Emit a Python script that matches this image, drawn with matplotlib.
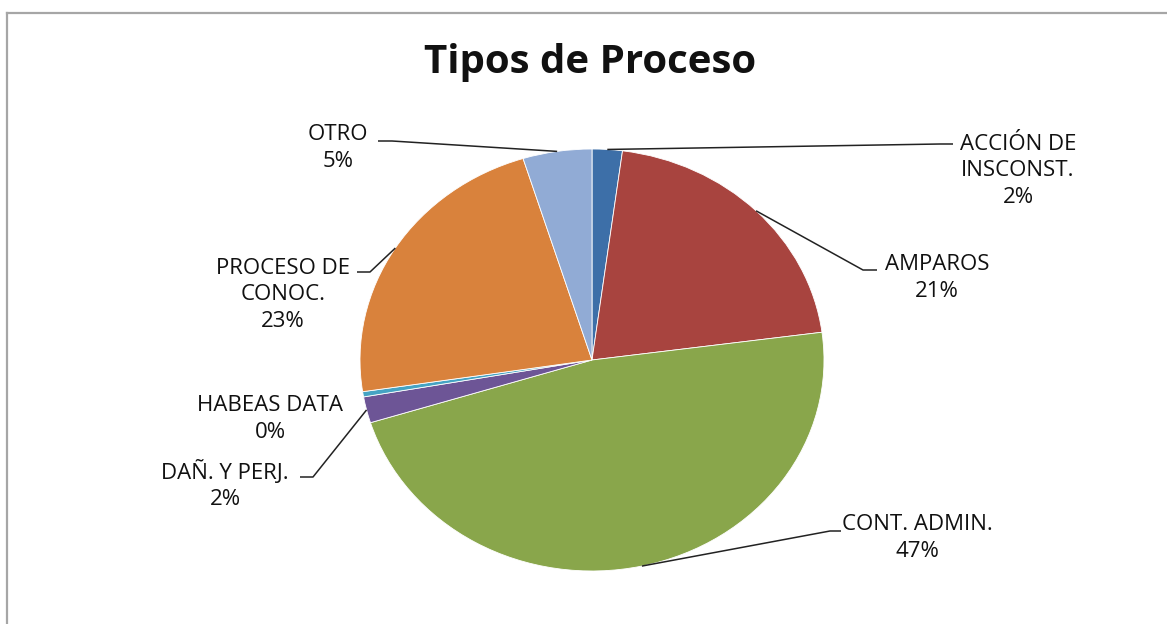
"""
Tipos de Proceso - gráfico de torta estilo Excel
"""

import numpy as np
import matplotlib
matplotlib.use("Agg")
import matplotlib.pyplot as plt
from matplotlib.lines import Line2D

plt.rcParams["font.family"] = ["Open Sans", "DejaVu Sans"]

# ── Datos
categorias = ["ACCIÓN DE\nINSCONST.", "AMPAROS", "CONT. ADMIN.", "DAÑ. Y PERJ.",
              "HABEAS DATA", "PROCESO DE\nCONOC.", "OTRO"]
valores = [2.1, 20.8, 47.3, 2.0, 0.4, 22.6, 4.8]
colores = ["#3d6fa8", "#a8443f", "#89a64b", "#6d5596", "#45a3c3", "#d9823c", "#91abd5"]

W, H = 1167, 624
CX, CY = 592, 360      # centro de la torta (px, desde arriba)
RX, RY = 232, 211      # radios en px (la imagen está algo estirada)


def px(x, y):
    """pixel (desde arriba-izquierda) -> coordenadas de datos"""
    return (x - CX) / RX, (CY - y) / RY


fig = plt.figure(figsize=(W / 100, H / 100), dpi=100)
ax = fig.add_axes([0, 0, 1, 1])

wedges, _ = ax.pie(valores, colors=colores, startangle=90, counterclock=False,
                   radius=1, wedgeprops=dict(edgecolor="white", linewidth=0.6))
ax.set_aspect("auto")
ax.set_xlim(-CX / RX, (W - CX) / RX)
ax.set_ylim(-(H - CY) / RY, CY / RY)
ax.axis("off")

# posición del texto (centro del bloque) y puntos del conector (codo, fin)
pos_texto = [(1018, 171), (937, 278), (917, 538), (225, 485),
             (270, 419), (283, 295), (338, 148)]
conectores = [[(940, 144), (953, 144)],
              [(863, 270), (877, 270)],
              [(830, 531), (841, 531)],
              [(313, 477), (300, 477)],
              None,
              [(370, 272), (357, 272)],
              [(392, 141), (378, 141)]]

total = sum(valores)
for w, nombre, v, (tx, ty), con in zip(wedges, categorias, valores, pos_texto, conectores):
    etiqueta = f"{nombre}\n{v / total * 100:.0f}%"
    ax.text(*px(tx, ty), etiqueta, ha="center", va="center", fontsize=16,
            color="#111111", linespacing=1.32)
    if con is None:
        continue
    ang = np.deg2rad((w.theta1 + w.theta2) / 2)
    xs = [np.cos(ang)] + [px(*p)[0] for p in con]
    ys = [np.sin(ang)] + [px(*p)[1] for p in con]
    ax.plot(xs, ys, color="#222222", linewidth=1.1, solid_capstyle="butt")

# título
fig.text(590 / W, 1 - 62 / H, "Tipos de Proceso", ha="center", va="center",
         fontsize=29, fontweight="bold", color="#111111")

# borde del área del gráfico (sólo arriba e izquierda quedan visibles)
fig.add_artist(Line2D([7 / W, 1], [1 - 13 / H, 1 - 13 / H], transform=fig.transFigure,
                      color="#a6a6a6", linewidth=1.6))
fig.add_artist(Line2D([7 / W, 7 / W], [0, 1 - 13 / H], transform=fig.transFigure,
                      color="#a6a6a6", linewidth=1.6))

fig.savefig("out.png", dpi=100, facecolor="white")
